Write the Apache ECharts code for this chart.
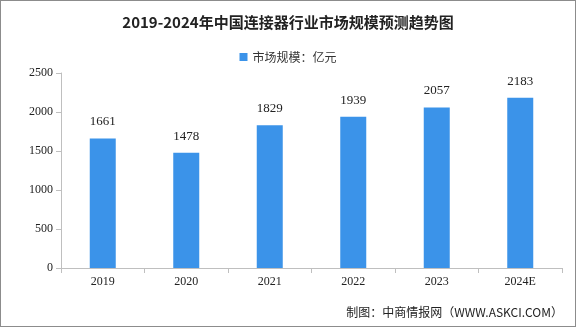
<!DOCTYPE html>
<html><head><meta charset="utf-8">
<script src="https://cdn.jsdelivr.net/npm/echarts@6/dist/echarts.min.js"></script>
<style>html,body{margin:0;padding:0;background:#fff}#c{width:576px;height:327px;box-sizing:border-box;border:1px solid #8c8c8c}</style>
</head><body><div id="c"></div>
<script>
const categories = ['2019','2020','2021','2022','2023','2024E'];
const marketSize = [1661,1478,1829,1939,2057,2183];
const seriesName = '市场规模：亿元';
const chart = echarts.init(document.getElementById('c'));
chart.setOption({
  animation:false,
  title:{text:'2019-2024年中国连接器行业市场规模预测趋势图',left:'center',top:9,
    textStyle:{fontFamily:'Noto Sans CJK SC',fontSize:15,fontWeight:'bold',color:'#222'}},
  legend:{top:45,left:'center',itemWidth:8,itemHeight:8,icon:'rect',
    textStyle:{fontFamily:'Noto Sans CJK SC',fontSize:12,color:'#333'}},
  graphic:[{type:'text',right:12,top:305,style:{text:'制图：中商情报网（WWW.ASKCI.COM）',
    font:'12px "Noto Sans CJK SC"',fill:'#222'}}],
  grid:{left:60,right:13,top:72,bottom:58},
  xAxis:{type:'category',data:categories,
    axisLine:{lineStyle:{color:'#bfbfbf'}},axisTick:{show:true,lineStyle:{color:'#bfbfbf'}},
    axisLabel:{fontFamily:'Liberation Serif',fontSize:12,color:'#222',margin:8}},
  yAxis:{type:'value',min:0,max:2500,interval:500,
    axisLine:{show:true,lineStyle:{color:'#bfbfbf'}},axisTick:{show:true,lineStyle:{color:'#bfbfbf'}},
    splitLine:{show:false},
    axisLabel:{fontFamily:'Liberation Serif',fontSize:12,color:'#222',margin:8,formatter:v=>String(v)}},
  series:[{name:seriesName,type:'bar',data:marketSize,barWidth:26,
    itemStyle:{color:'#3b93e9'},
    label:{show:true,position:'top',distance:10,fontFamily:'Liberation Serif',fontSize:13,color:'#222'}}]
});
</script></body></html>
